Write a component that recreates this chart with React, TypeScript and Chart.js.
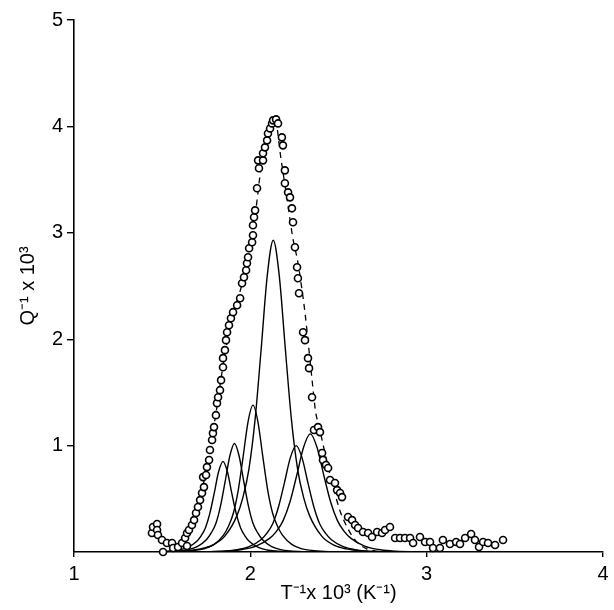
import React, { useEffect, useRef } from "react";
import { Chart, registerables } from "chart.js";

Chart.register(...registerables);

// Axis ranges / ticks
const xRange = [1, 4];
const yRange = [0, 5];
const xTitle = "T\u207B\u00B9x 10\u00B3 (K\u207B\u00B9)";
const yTitle = "Q\u207B\u00B9 x 10\u00B3";

// Measured internal friction (open circles)
const obsX = [
  1.442, 1.448, 1.471, 1.471, 1.476, 1.499, 1.505, 1.527, 1.556, 1.562, 1.59, 1.613, 1.63, 1.641, 1.641, 1.652,
  1.669, 1.681, 1.692, 1.703, 1.715, 1.726, 1.737, 1.732, 1.749, 1.754, 1.766, 1.771, 1.783, 1.788, 1.794, 1.805,
  1.811, 1.817, 1.828, 1.834, 1.845, 1.845, 1.856, 1.862, 1.868, 1.879, 1.89, 1.902, 1.925, 1.942, 1.953, 1.964,
  1.976, 1.981, 1.987, 1.993, 2.01, 2.015, 2.015, 2.021, 2.027, 2.038, 2.044, 2.049, 2.072, 2.072, 2.083, 2.095,
  2.1, 2.112, 2.123, 2.129, 2.146, 2.157,
  2.179, 2.185, 2.196, 2.196, 2.214, 2.225, 2.236, 2.242, 2.253, 2.265, 2.27, 2.276, 2.299, 2.31, 2.327, 2.333,
  2.35, 2.361, 2.384, 2.395, 2.407, 2.412, 2.429, 2.441, 2.452, 2.48, 2.492, 2.509, 2.52, 2.554, 2.577, 2.594,
  2.611, 2.639, 2.668, 2.69, 2.719, 2.747, 2.764, 2.792, 2.821, 2.849, 2.877, 2.906, 2.923, 2.962, 2.991, 3.019,
  3.036, 3.075, 3.092, 3.132, 3.167, 3.189, 3.218, 3.252, 3.274, 3.297, 3.32, 3.348, 3.388, 3.433,
];
const obsY = [
  0.178, 0.235, 0.263, 0.207, 0.16, 0.113, 0.0, 0.085, 0.085, 0.038, 0.047, 0.085, 0.131, 0.056, 0.178, 0.207,
  0.254, 0.3, 0.366, 0.423, 0.488, 0.554, 0.61, 0.704, 0.723, 0.798, 0.864, 0.958, 1.052, 1.117, 1.174, 1.286,
  1.399, 1.455, 1.521, 1.615, 1.737, 1.822, 1.897, 1.991, 2.066, 2.131, 2.197, 2.254, 2.319, 2.385, 2.526, 2.582,
  2.648, 2.714, 2.77, 2.855, 2.911, 2.977, 3.071, 3.146, 3.211, 3.418, 3.681, 3.606, 3.681, 3.747, 3.803, 3.869,
  3.934, 3.981, 4.028, 4.057, 4.066, 4.028,
  3.897, 3.822, 3.587, 3.465, 3.38, 3.333, 3.23, 3.099, 2.864, 2.676, 2.573, 2.432, 2.066, 1.991, 1.822, 1.728,
  1.455, 1.146, 1.174, 1.127, 0.93, 0.864, 0.817, 0.789, 0.676, 0.648, 0.582, 0.554, 0.516, 0.329, 0.3, 0.254,
  0.225, 0.188, 0.178, 0.141, 0.188, 0.178, 0.207, 0.235, 0.131, 0.131, 0.131, 0.131, 0.085, 0.141, 0.094, 0.094,
  0.038, 0.038, 0.113, 0.075, 0.094, 0.075, 0.131, 0.169, 0.113, 0.047, 0.094, 0.085, 0.066, 0.113,
];

// Dashed envelope (sum of components)
const sumX = [1.6, 1.65, 1.7, 1.75, 1.8, 1.85, 1.9, 1.95, 2.0, 2.03, 2.06, 2.1, 2.14, 2.175, 2.21, 2.24, 2.27, 2.295, 2.31, 2.33, 2.35, 2.37, 2.39, 2.43, 2.47, 2.51, 2.55, 2.59, 2.62, 2.66, 2.72];
const sumY = [0.05, 0.15, 0.38, 0.78, 1.25, 1.8, 2.22, 2.5, 2.88, 3.2, 3.6, 3.93, 4.06, 3.68, 3.3, 2.96, 2.72, 2.44, 2.25, 1.94, 1.62, 1.32, 1.18, 0.88, 0.61, 0.38, 0.23, 0.12, 0.07, 0.03, 0.005];

// Individual relaxation peaks (solid curves)
const peak1X = [1.445, 1.545, 1.595, 1.645, 1.695, 1.72, 1.745, 1.77, 1.795, 1.82, 1.845, 1.87, 1.895, 1.92, 1.945, 1.97, 1.995, 2.045, 2.095, 2.145, 2.245];
const peak1Y = [0.001, 0.009, 0.019, 0.043, 0.098, 0.149, 0.226, 0.361, 0.551, 0.754, 0.85, 0.754, 0.551, 0.361, 0.226, 0.149, 0.098, 0.043, 0.019, 0.009, 0.001];
const peak2X = [1.489, 1.594, 1.647, 1.699, 1.752, 1.778, 1.805, 1.831, 1.857, 1.884, 1.91, 1.936, 1.963, 1.989, 2.015, 2.042, 2.068, 2.121, 2.173, 2.226, 2.331];
const peak2Y = [0.001, 0.01, 0.022, 0.051, 0.117, 0.179, 0.271, 0.434, 0.661, 0.905, 1.02, 0.905, 0.661, 0.434, 0.271, 0.179, 0.117, 0.051, 0.022, 0.01, 0.001];
const peak3X = [1.571, 1.682, 1.737, 1.793, 1.848, 1.876, 1.904, 1.932, 1.959, 1.987, 2.015, 2.043, 2.071, 2.098, 2.126, 2.154, 2.182, 2.237, 2.293, 2.348, 2.459];
const peak3Y = [0.001, 0.014, 0.03, 0.069, 0.159, 0.242, 0.367, 0.587, 0.894, 1.224, 1.38, 1.224, 0.894, 0.587, 0.367, 0.242, 0.159, 0.069, 0.03, 0.014, 0.001];
const peak4X = [1.578, 1.716, 1.785, 1.854, 1.923, 1.958, 1.992, 2.027, 2.061, 2.096, 2.13, 2.164, 2.199, 2.233, 2.268, 2.302, 2.337, 2.406, 2.475, 2.544, 2.682];
const peak4Y = [0.001, 0.029, 0.064, 0.147, 0.337, 0.513, 0.779, 1.246, 1.899, 2.598, 2.93, 2.598, 1.899, 1.246, 0.779, 0.513, 0.337, 0.147, 0.064, 0.029, 0.001];
const peak5X = [1.727, 1.86, 1.927, 1.993, 2.06, 2.093, 2.127, 2.16, 2.193, 2.227, 2.26, 2.293, 2.327, 2.36, 2.393, 2.427, 2.46, 2.527, 2.593, 2.66, 2.793];
const peak5Y = [0.001, 0.01, 0.022, 0.05, 0.115, 0.175, 0.266, 0.425, 0.648, 0.887, 1.0, 0.887, 0.648, 0.425, 0.266, 0.175, 0.115, 0.05, 0.022, 0.01, 0.001];
const peak6X = [1.725, 1.878, 1.955, 2.032, 2.109, 2.148, 2.186, 2.225, 2.263, 2.302, 2.34, 2.378, 2.417, 2.455, 2.494, 2.532, 2.571, 2.648, 2.725, 2.802, 2.955];
const peak6Y = [0.001, 0.011, 0.024, 0.056, 0.128, 0.194, 0.295, 0.472, 0.719, 0.984, 1.11, 0.984, 0.719, 0.472, 0.295, 0.194, 0.128, 0.056, 0.024, 0.011, 0.001];

const peaks = [
  [peak1X, peak1Y],
  [peak2X, peak2Y],
  [peak3X, peak3Y],
  [peak4X, peak4Y],
  [peak5X, peak5Y],
  [peak6X, peak6Y],
];

const zip = (xs: number[], ys: number[]) => xs.map((x, i) => ({ x, y: ys[i] }));
const FONT = "'Liberation Sans', Arial, sans-serif";

export default function App() {
  const ref = useRef<HTMLCanvasElement | null>(null);

  useEffect(() => {
    if (!ref.current) return;
    const datasets: any[] = [
      {
        label: "measured",
        data: zip(obsX, obsY),
        showLine: false,
        pointStyle: "circle",
        pointRadius: 3.5,
        pointBorderWidth: 1.6,
        pointBorderColor: "#000",
        pointBackgroundColor: "#fff",
        clip: false,
      },
      {
        label: "sum",
        data: zip(sumX, sumY),
        showLine: true,
        pointRadius: 0,
        borderColor: "#000",
        borderWidth: 1.3,
        borderDash: [6, 5],
        cubicInterpolationMode: "monotone",
        fill: false,
      },
      ...peaks.map(([xs, ys], i) => ({
        label: "peak " + (i + 1),
        data: zip(xs, ys),
        showLine: true,
        pointRadius: 0,
        borderColor: "#000",
        borderWidth: 1.4,
        cubicInterpolationMode: "monotone",
        fill: false,
      })),
    ];

    const tickColor = (c: any) => (c.tick && c.tick.value === 0 ? "rgba(0,0,0,0)" : "#000");

    const chart = new Chart(ref.current, {
      type: "scatter",
      data: { datasets },
      options: {
        animation: false,
        responsive: false,
        devicePixelRatio: 1,
        events: [],
        layout: { padding: { left: 0, right: 11, top: 20, bottom: 0 } },
        plugins: { legend: { display: false }, tooltip: { enabled: false } },
        scales: {
          x: {
            type: "linear",
            position: "bottom",
            min: xRange[0],
            max: xRange[1],
            ticks: { stepSize: 1, color: "#000", font: { family: FONT, size: 20 }, padding: 5, maxRotation: 0 },
            grid: { drawOnChartArea: false, drawTicks: true, tickLength: 5, color: "#000", lineWidth: 1.4 },
            border: { display: true, color: "#000", width: 1.6 },
            title: { display: true, text: xTitle, color: "#000", font: { family: FONT, size: 20 }, padding: { top: 0, bottom: 5 } },
            afterFit: (s: any) => {
              s.height = 58;
            },
          },
          y: {
            type: "linear",
            position: "left",
            min: yRange[0],
            max: yRange[1],
            ticks: {
              stepSize: 1,
              color: "#000",
              font: { family: FONT, size: 20 },
              padding: 4,
              callback: (v: any) => (v === 0 ? "" : String(v)),
            },
            grid: { drawOnChartArea: false, drawTicks: true, tickLength: 7, color: tickColor, lineWidth: 1.4 },
            border: { display: true, color: "#000", width: 1.6 },
            title: { display: true, text: yTitle, color: "#000", font: { family: FONT, size: 20 }, padding: { top: 16, bottom: 0 } },
            afterFit: (s: any) => {
              s.width = 74;
            },
          },
        },
      } as any,
    });
    return () => chart.destroy();
  }, []);

  return (
    <div style={{ position: "fixed", left: 0, top: 0, width: 614, height: 610, background: "#fff" }}>
      <canvas ref={ref} width={614} height={610} style={{ width: 614, height: 610, display: "block" }} />
    </div>
  );
}
